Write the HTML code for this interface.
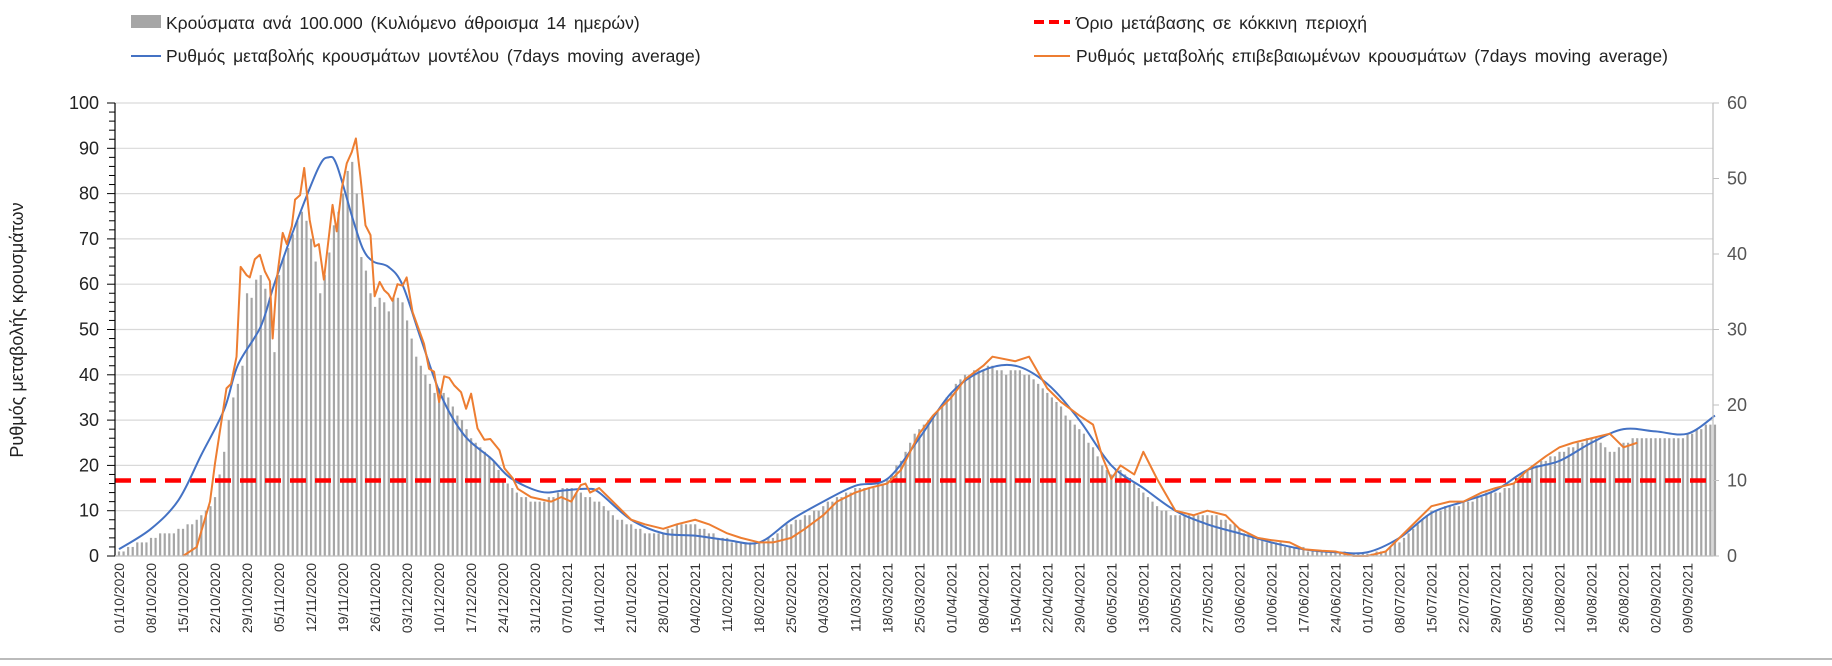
<!DOCTYPE html>
<html><head><meta charset="utf-8">
<style>
html,body{margin:0;padding:0;background:#fff;}
body{width:1832px;height:661px;overflow:hidden;font-family:"Liberation Sans","DejaVu Sans",sans-serif;}
svg text{font-family:"Liberation Sans","DejaVu Sans",sans-serif;}
</style></head>
<body>
<svg id="chart" width="1832" height="661" xmlns="http://www.w3.org/2000/svg">
<g id="legend" font-size="17.5" fill="#222" style="word-spacing:3px">
 <g><rect x="131" y="15" width="30" height="13" fill="#a6a6a6"/><text x="166" y="29">Κρούσματα ανά 100.000 (Κυλιόμενο άθροισμα 14 ημερών)</text></g>
 <g><line x1="1034" y1="22" x2="1070" y2="22" stroke="#ff0000" stroke-width="4" stroke-dasharray="10,5"/><text x="1076" y="29">Όριο μετάβασης σε κόκκινη περιοχή</text></g>
 <g><line x1="131" y1="56" x2="161" y2="56" stroke="#4472c4" stroke-width="2"/><text x="166" y="62">Ρυθμός μεταβολής κρουσμάτων μοντέλου (7days moving average)</text></g>
 <g><line x1="1034" y1="56" x2="1070" y2="56" stroke="#ed7d31" stroke-width="2"/><text x="1076" y="62">Ρυθμός μεταβολής επιβεβαιωμένων κρουσμάτων (7days moving average)</text></g>
</g>
<text transform="translate(23,330) rotate(-90)" text-anchor="middle" font-size="18" fill="#222">Ρυθμός μεταβολής κρουσμάτων</text>
<g id="grid"></g><g id="bars"></g><g id="lines"></g><g id="axes"></g>
<line x1="0" y1="659" x2="1832" y2="659" stroke="#bbb" stroke-width="2"/>
</svg>
<script>
// bar values (cases per 100k, 14-day cumulative), daily from 01/10/2020
const barValues = [
1,1,2,2,3,3,3, 4,4,5,5,5,5,6, 6,7,7,8,9,10,11, 13,18,23,30,35,38,42,
58,57,61,62,59,57,45, 62,66,68,71,74,76,74, 70,65,58,62,67,73,76, 80,85,87,80,66,63,58,
55,57,56,54,57,57,56, 52,48,44,42,40,38,36, 37,36,35,33,31,30,28, 26,25,24,23,22,21,19,
17,16,15,14,13,13,12, 12,12,12,13,13,14,15, 15,15,14,14,13,13,12, 12,11,10,9,8,8,7,
7,6,6,5,5,5,5, 5,6,6,7,7,7,7, 7,6,6,5,5,4,4, 4,3,3,3,3,3,3,
3,3,4,4,5,6,7, 7,8,8,9,9,10,10, 11,12,12,13,13,14,14, 15,15,15,15,15,16,16,
17,18,20,21,23,25,27, 28,29,30,31,32,33,35, 36,38,39,40,40,41,41, 41,42,42,41,41,40,41,
41,41,40,40,39,38,37, 36,35,34,33,31,30,29, 28,27,25,24,22,20,19, 18,19,19,18,17,16,15,
14,13,12,11,10,10,9, 9,9,9,9,9,9,9, 9,9,9,8,8,7,7, 6,5,5,4,4,4,3,
3,3,3,2,2,2,2, 2,1,1,1,1,1,1, 1,1,1,0.5,0.5,0.5,0.5, 0.5,0.5,1,1,1,2,3,
3,4,5,6,7,8,9, 10,10,10,11,11,11,11, 12,12,12,13,13,14,14, 14,14,15,15,16,17,18,
19,20,20,21,21,22,22, 23,23,24,24,25,25,26, 26,26,25,24,23,23,24, 25,25,26,26,26,26,26,
26,26,26,26,26,26,26, 27,27,28,28,29,29,29];
// model rate (right axis units) - day index & value
const blueDays = [0,7,13,18,23,26,31,34,38.5,43.6,45.8,47.6,51.2,53.4,55.6,58.9,62,66,70.4,75.5,81.4,85.7,92.3,97.4,102.5,105,112,119,126,133,140,147,154,161,168,175,182,189,196,203,210,217,224,231,238,245,252,259,266,273,280,287,294,301,308,315,322,329,336,343,349];
const blueVals = [0.9,3.6,7.4,13.4,19.4,25.3,30.4,36.1,43.7,51.4,52.8,51.8,44.5,40.6,39,38.3,35.9,28.8,21.3,16,12.9,10.3,8.5,8.7,8.9,8.4,4.8,3,2.7,2.1,1.8,4.8,7.2,9.3,10.2,15.6,21.6,24.6,25.2,22.8,18,12,9,6,4.2,3,1.8,0.9,0.5,0.5,2.4,5.7,7.2,8.7,11.4,12.6,15,16.8,16.5,16.2,18.6];
// confirmed rate (right axis units)
const orangeDays = [14,17,19.9,21,23.5,24.5,25.7,26.6,27.9,28.6,29.7,30.8,31.9,33,33.6,34.5,35.8,36.7,37.8,38.5,39.6,40.5,41.7,42.8,43.7,44.8,46.7,47.6,48.7,49.8,50.9,51.8,52.8,53.9,55,55.9,57,58,58.9,59.8,60.9,62,62.9,64.2,66.7,67.8,68.9,70,71.1,72.2,73.3,74.8,75.9,77,78.4,79.9,81.2,83.2,84.3,86.1,87.2,90.1,94.5,96.7,98.9,101,102,103,105,108,112,115,119,122,126,129,133,136,140,143,147,150,154,157,161,164,168,171,175,178,182,185,189,191,196,199,203,206,210,213,215,217,219,222,224,227,231,235,238,242,245,249,252,256,259,263,266,270,273,277,280,284,287,291,294,298,301,305,308,312,315,318,322,326,329,332];
const orangeVals = [0,1.2,7.2,12.3,22.2,22.8,26.4,38.3,37.2,36.9,39.3,39.9,37.7,36.4,28.8,36.6,42.8,41.3,43.7,47.2,47.8,51.4,44.5,41,41.3,36.6,46.5,43,48.6,52,53.5,55.3,50.2,43.8,42.5,34.4,36.3,35.2,34.7,33.8,36,35.8,36.9,32.3,28.1,24.8,24.4,20.4,23.8,23.6,22.6,21.7,19.5,21.5,16.9,15.4,15.5,14,11.6,10.3,8.9,7.8,7.2,7.8,7.2,9.4,9.6,8.4,9,7.2,4.8,4.2,3.6,4.2,4.8,4.2,3,2.4,1.8,1.8,2.4,3.6,5.4,7.2,8.4,9,9.6,11.4,16.2,18.6,21,23.4,25.2,26.4,25.8,26.4,22.2,20.4,18.6,17.4,13.2,10.2,12,10.8,13.8,10.2,6,5.4,6,5.4,3.6,2.4,2.1,1.8,0.9,0.7,0.6,0,0,0.6,2.4,4.8,6.6,7.2,7.2,8.4,9,9.6,11.4,13.2,14.4,15,15.6,16.2,14.4,15];
const thresholdValue = 10;
const leftTicks = [0,10,20,30,40,50,60,70,80,90,100];
const rightTicks = [0,10,20,30,40,50,60];
const startDate = [2020,10,1];

const NS="http://www.w3.org/2000/svg";
const X0=119, DX=4.573, Y0=556, YTOP=103, XR=1713;
const xDay=d=>X0+d*DX;
const yL=v=>Y0-v*(Y0-YTOP)/100;
const yR=v=>Y0-v*(Y0-YTOP)/60;
function mk(tag,attrs,parent){const e=document.createElementNS(NS,tag);for(const k in attrs)e.setAttribute(k,attrs[k]);parent.appendChild(e);return e;}
const grid=document.getElementById('grid'),bars=document.getElementById('bars'),lines=document.getElementById('lines'),axes=document.getElementById('axes');
leftTicks.forEach(t=>{if(t===0)return;const l=mk('line',{x1:115,x2:XR,y1:yL(t),y2:yL(t),stroke:'#d9d9d9','stroke-width':1.2},grid);

});
barValues.forEach((v,i)=>{const r=mk('rect',{x:xDay(i)-1.1,y:yL(v),width:2.2,height:Y0-yL(v),fill:'#a6a6a6'},bars);

});
const th=mk('line',{x1:115,x2:XR,y1:yR(thresholdValue),y2:yR(thresholdValue),stroke:'#ff0000','stroke-width':4.5,'stroke-dasharray':'16,9'},lines);


function smooth(pts){let d='M'+pts[0][0]+','+pts[0][1];for(let i=0;i<pts.length-1;i++){const p0=pts[Math.max(0,i-1)],p1=pts[i],p2=pts[i+1],p3=pts[Math.min(pts.length-1,i+2)];
const c1=[p1[0]+(p2[0]-p0[0])/6,p1[1]+(p2[1]-p0[1])/6],c2=[p2[0]-(p3[0]-p1[0])/6,p2[1]-(p3[1]-p1[1])/6];d+=' C'+c1+' '+c2+' '+p2;}return d;}
const bp=blueDays.map((d,i)=>[xDay(d),yR(blueVals[i])]);
const blue=mk('path',{d:smooth(bp),fill:'none',stroke:'#4472c4','stroke-width':2},lines);


const op=orangeDays.map((d,i)=>xDay(d)+','+yR(orangeVals[i])).join(' ');
const org=mk('polyline',{points:op,fill:'none',stroke:'#ed7d31','stroke-width':2,'stroke-linejoin':'round'},lines);


const la=mk('line',{x1:115,x2:115,y1:YTOP,y2:Y0,stroke:'#000','stroke-width':1.2},axes);


for(let v=0;v<=100;v+=2){mk('line',{x1:v%10===0?107:109,x2:115,y1:yL(v),y2:yL(v),stroke:'#000','stroke-width':1},axes);}
leftTicks.forEach(t=>{const tx=mk('text',{x:99,y:yL(t)+6,'text-anchor':'end','font-size':18,fill:'#222'},axes);tx.textContent=t;

});
const ra=mk('line',{x1:XR,x2:XR,y1:YTOP,y2:Y0,stroke:'#bfbfbf','stroke-width':1.2},axes);


rightTicks.forEach(t=>{mk('line',{x1:XR,x2:XR+6,y1:yR(t),y2:yR(t),stroke:'#bfbfbf'},axes);
const tx=mk('text',{x:XR+14,y:yR(t)+6,'font-size':18,fill:'#555'},axes);tx.textContent=t;

});
const xa=mk('line',{x1:115,x2:XR,y1:Y0,y2:Y0,stroke:'#bfbfbf','stroke-width':1.2},axes);


const sd=new Date(startDate[0],startDate[1]-1,startDate[2],12);
for(let d=0;d<barValues.length;d+=7){const dt=new Date(sd.getTime()+d*86400000);
const s=String(dt.getDate()).padStart(2,'0')+'/'+String(dt.getMonth()+1).padStart(2,'0')+'/'+dt.getFullYear();
const x=xDay(d)+5;const tx=mk('text',{transform:'translate('+x+',563) rotate(-90)','text-anchor':'end','font-size':14,fill:'#333'},axes);tx.textContent=s;

}
</script>
</body></html>
